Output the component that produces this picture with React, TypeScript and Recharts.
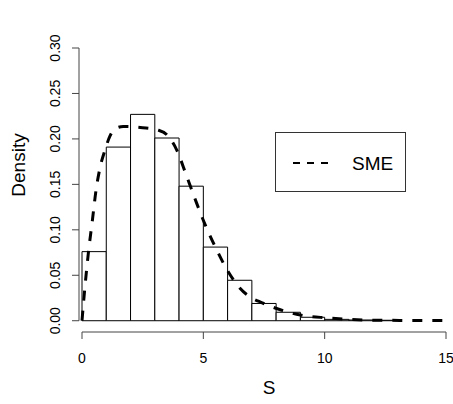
import React from 'react';
import { ComposedChart, Line, XAxis, YAxis, ReferenceArea, ReferenceLine, Legend, Label } from 'recharts';

// histogram bins (edges) and density heights
const binEdges = [0, 1, 2, 3, 4, 5, 6, 7, 8, 9, 10, 11, 12, 13];
const binDensity = [0.076, 0.191, 0.227, 0.201, 0.148, 0.081, 0.0445, 0.019, 0.0093, 0.0038, 0.0015, 0.0008, 0.0005];

// SME density curve
const curveX = [0, 0.12, 0.26, 0.43, 0.58, 0.74, 0.95, 1.15, 1.36, 1.7, 2.0, 2.4, 2.8, 3.1, 3.5, 3.9, 4.3, 4.7, 5.1, 5.55, 6.0, 6.5, 7.0, 7.4, 8.2, 9.0, 10.0, 10.8, 11.7, 12.5, 13.5, 14.3, 15];
const curveY = [0, 0.037, 0.074, 0.111, 0.144, 0.168, 0.188, 0.203, 0.211, 0.2137, 0.2135, 0.2126, 0.2115, 0.21, 0.2045, 0.188, 0.16, 0.131, 0.104, 0.078, 0.055, 0.036, 0.025, 0.02, 0.0118, 0.0063, 0.0033, 0.0019, 0.0008, 0.0005, 0.0003, 0.0002, 0.0001];

const xTicks = [0, 5, 10, 15];
const yTicks = [0, 0.05, 0.1, 0.15, 0.2, 0.25, 0.3];

const FONT = '"Liberation Sans", Arial, Helvetica, sans-serif';
const AXIS = '#444';

const curveData = curveX.map((x, i) => ({ x, y: curveY[i] }));

const YTick = (props: any) => {
  const { x, y, payload } = props;
  const tx = x - 12;
  return (
    <text x={tx} y={y} transform={`rotate(-90, ${tx}, ${y})`} textAnchor="middle" fontSize={14} fill="#000" fontFamily={FONT}>
      {payload.value.toFixed(2)}
    </text>
  );
};

const SmeLegend = () => (
  <div style={{ width: 131, height: 60, border: '1px solid #333', boxSizing: 'border-box', background: '#fff' }}>
    <svg width={129} height={58} style={{ display: 'block' }}>
      <line x1={17} y1={30} x2={53} y2={30} stroke="#000" strokeWidth={2} strokeDasharray="7 7" />
      <text x={76} y={37} fontSize={19} fontFamily={FONT} fill="#000">SME</text>
    </svg>
  </div>
);

export default function App() {
  return (
    <div style={{ position: 'absolute', left: 0, top: 0, background: '#fff' }}>
      <ComposedChart
        width={453}
        height={404}
        data={curveData}
        margin={{ top: 48, right: 7, bottom: 0, left: 0 }}
        style={{ fontFamily: FONT }}
      >
        <XAxis
          dataKey="x"
          type="number"
          domain={[-0.124, 15]}
          ticks={xTicks}
          axisLine={false}
          tickLine={{ stroke: AXIS }}
          tickSize={7}
          tickMargin={14}
          height={72}
          tick={{ fontSize: 14, fill: '#000' }}
          interval={0}
        >
          <Label
            content={(p: any) => {
              const vb = p.viewBox;
              return (
                <text x={269} y={vb.y + 62} textAnchor="middle" fontSize={19} fill="#000" fontFamily={FONT}>
                  S
                </text>
              );
            }}
          />
        </XAxis>
        <YAxis
          type="number"
          domain={[-0.0124, 0.3]}
          ticks={yTicks}
          axisLine={false}
          tickLine={{ stroke: AXIS }}
          tickSize={7}
          tickMargin={0}
          width={79}
          tick={<YTick />}
          interval={0}
        >
          <Label
            content={() => (
              <text x={25} y={165} transform="rotate(-90, 25, 165)" textAnchor="middle" fontSize={19} fill="#000" fontFamily={FONT}>
                Density
              </text>
            )}
          />
        </YAxis>
        <ReferenceLine segment={[{ x: 0, y: -0.0124 }, { x: 15, y: -0.0124 }]} stroke={AXIS} ifOverflow="visible" />
        <ReferenceLine segment={[{ x: -0.124, y: 0 }, { x: -0.124, y: 0.3 }]} stroke={AXIS} ifOverflow="visible" />
        {binDensity.map((d, i) => (
          <ReferenceArea
            key={i}
            x1={binEdges[i]}
            x2={binEdges[i + 1]}
            y1={0}
            y2={d}
            fill="#fff"
            fillOpacity={1}
            stroke="#000"
            strokeWidth={1}
            ifOverflow="visible"
          />
        ))}
        <Line
          dataKey="y"
          type="monotone"
          stroke="#000"
          strokeWidth={3}
          strokeDasharray="10 10"
          dot={false}
          activeDot={false}
          isAnimationActive={false}
          legendType="none"
        />
        <Legend
          layout="vertical"
          align="center"
          verticalAlign="middle"
          content={<SmeLegend />}
          wrapperStyle={{ position: 'absolute', left: 275, top: 132, width: 131, height: 60 }}
        />
      </ComposedChart>
    </div>
  );
}
